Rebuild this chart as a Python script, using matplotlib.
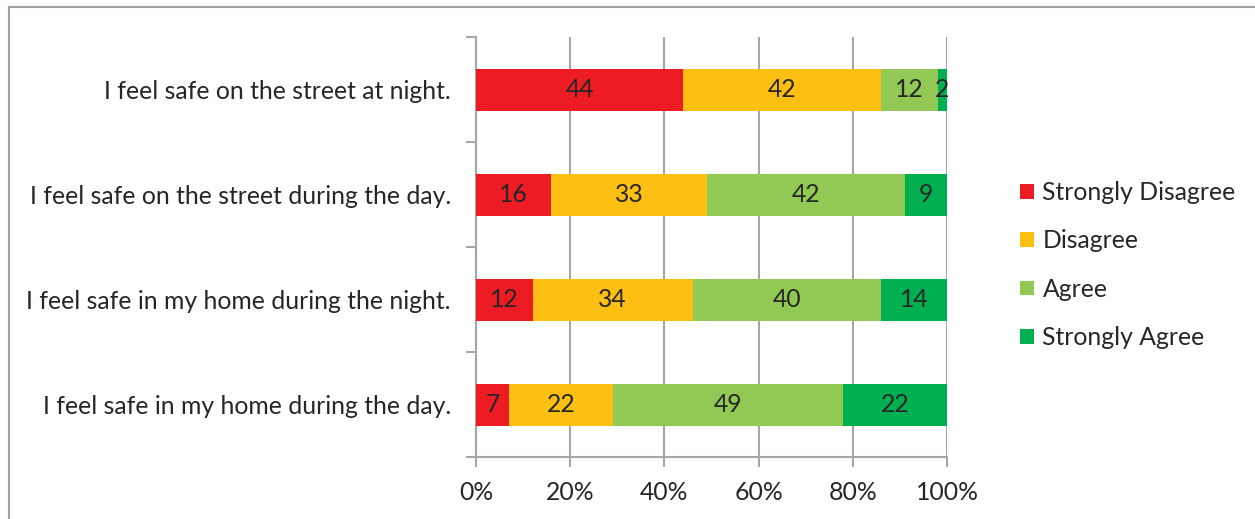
import matplotlib
matplotlib.use("Agg")
import matplotlib.pyplot as plt
from matplotlib.patches import Patch
from matplotlib.lines import Line2D
import numpy as np

plt.rcParams['font.family'] = ['Lato', 'DejaVu Sans']

# survey statements, bottom to top as they appear on the y axis
statements = [
    "I feel safe in my home during the day.",
    "I feel safe in my home during the night.",
    "I feel safe on the street during the day.",
    "I feel safe on the street at night.",
]
responses = ["Strongly Disagree", "Disagree", "Agree", "Strongly Agree"]
strongly_disagree = [7, 12, 16, 44]
disagree = [22, 34, 33, 42]
agree = [49, 40, 42, 12]
strongly_agree = [22, 14, 9, 2]
x_ticks = [0, 20, 40, 60, 80, 100]
x_tick_labels = ["0%", "20%", "40%", "60%", "80%", "100%"]

colors = ["#ED1C24", "#FDBF12", "#92C954", "#00B050"]
text_color = "#262626"
grid_color = "#A6A6A6"
fs = 17.8

fig = plt.figure(figsize=(12.55, 5.19), dpi=100)
ax = fig.add_axes([476 / 1255, 1 - 457 / 519, (947 - 476) / 1255, (457 - 37) / 519])

series = [strongly_disagree, disagree, agree, strongly_agree]
y = np.arange(len(statements))
left = np.zeros(len(statements))
for vals, col, name in zip(series, colors, responses):
    vals = np.array(vals, dtype=float)
    ax.barh(y, vals, left=left, height=0.4, color=col, label=name, zorder=3)
    for yi, (l, v) in enumerate(zip(left, vals)):
        ax.text(l + v / 2, yi, f"{int(v)}", ha='center', va='center',
                fontsize=fs, color=text_color, zorder=4)
    left += vals

ax.set_xlim(0, 100)
ax.set_ylim(-0.5, len(statements) - 0.5)

ax.set_xticks(x_ticks)
ax.set_xticklabels(x_tick_labels)
ax.set_yticks(y)
ax.set_yticklabels(statements)
ax.set_yticks(np.arange(-0.5, len(statements)), minor=True)

ax.tick_params(axis='y', which='major', length=0, pad=18, labelsize=fs, labelcolor=text_color)
ax.tick_params(axis='y', which='minor', length=7, width=1.5, color=grid_color)
ax.tick_params(axis='x', length=7, width=1.5, color=grid_color, pad=10,
               labelsize=fs, labelcolor=text_color)

ax.grid(axis='x', color=grid_color, linewidth=1.5, zorder=0)
for side in ['top', 'right']:
    ax.spines[side].set_visible(False)
for side in ['left', 'bottom']:
    ax.spines[side].set_color(grid_color)
    ax.spines[side].set_linewidth(1.5)

handles = [Patch(facecolor=c, edgecolor='none') for c in colors]
fig.legend(handles, responses, loc='center left', bbox_to_anchor=(998 / 1255, 1 - 265 / 519),
           frameon=False, fontsize=fs, handlelength=0.55, handleheight=0.55,
           handletextpad=0.35, labelspacing=1.03, labelcolor=text_color)

# chart area border on the top and left edges
fig.add_artist(Line2D([8.5 / 1255, 8.5 / 1255], [0, 1 - 7 / 519], transform=fig.transFigure,
                      color="#A0A0A0", linewidth=1.5))
fig.add_artist(Line2D([8.5 / 1255, 1], [1 - 7 / 519, 1 - 7 / 519], transform=fig.transFigure,
                      color="#A0A0A0", linewidth=1.5))

fig.savefig("out.png", dpi=100)
